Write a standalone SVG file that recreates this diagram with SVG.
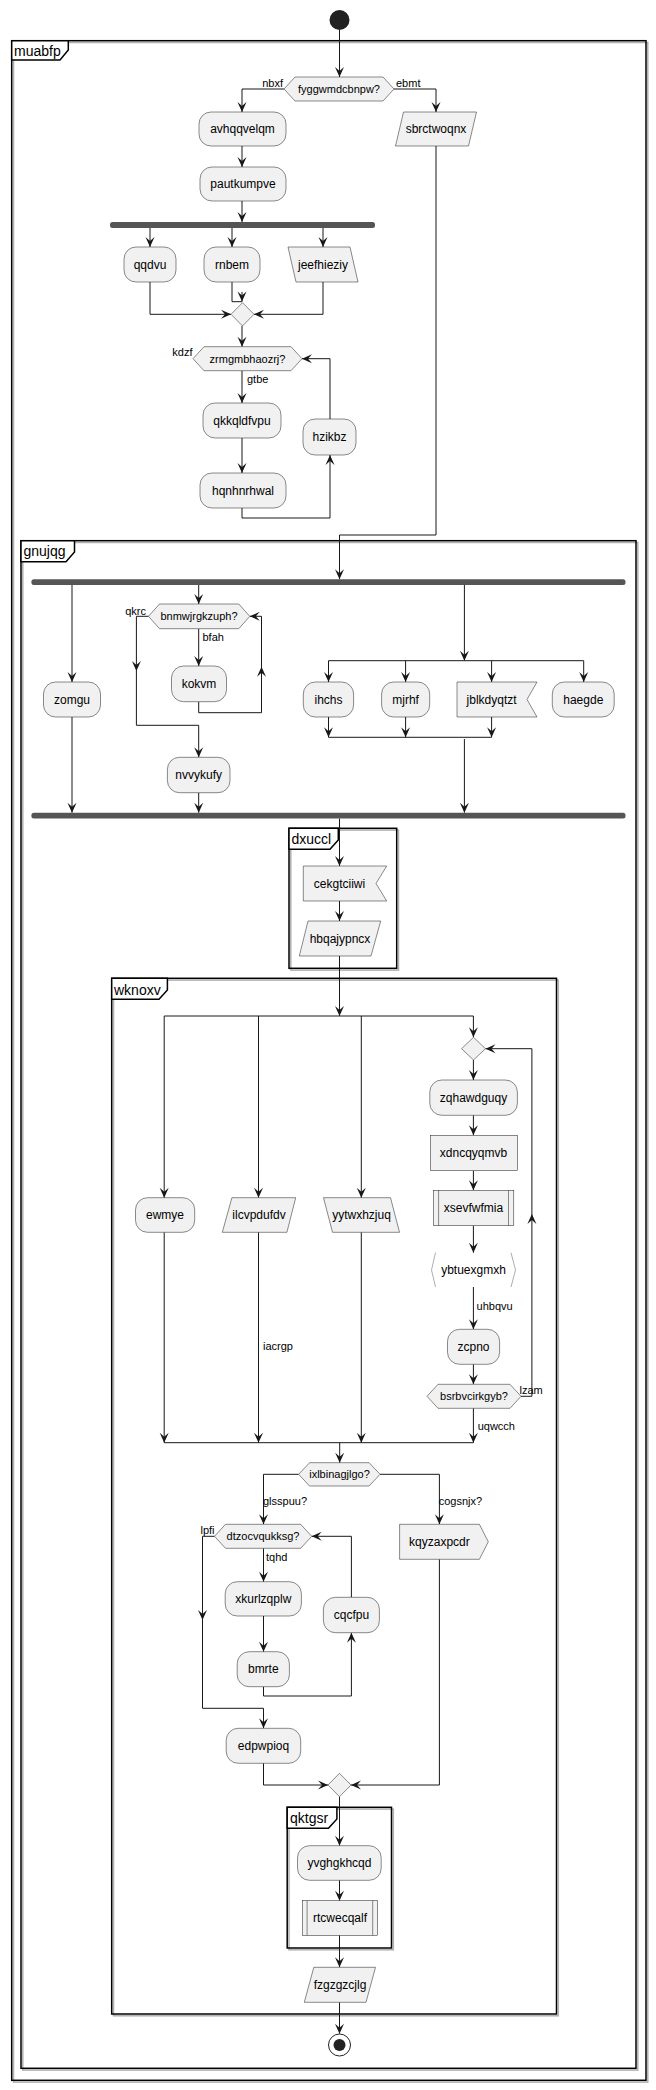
<svg xmlns="http://www.w3.org/2000/svg" xmlns:xlink="http://www.w3.org/1999/xlink" width="656" height="2090" viewBox="0 0 656 2090">
<style>
text{font-family:"Liberation Sans",Arial,sans-serif;fill:#000}
.t{font-size:12px;text-anchor:middle}
.d{font-size:11px;text-anchor:middle}
.l{font-size:11px}
.r{font-size:11px;text-anchor:end}
.f{font-size:14px}
.n{fill:#F1F1F1;stroke:#181818;stroke-width:0.5}
.c{fill:none;stroke:#181818;stroke-width:1}
.fr{fill:none;stroke:#000;stroke-width:1.5}
.sh{fill:none;stroke:#b0b0b0;stroke-width:1.5}
.tab{fill:#fff;stroke:#000;stroke-width:1.5}
.bar{fill:#555;stroke:none}
</style>
<defs>
<path id="ah" d="M0,0 L-4.5,-10 L0,-6 L4.5,-10 Z" fill="#181818"/>
</defs>
<rect width="656" height="2090" fill="#fff"/>

<g id="frames">
<rect class="sh" x="13.5" y="42.5" width="634.3" height="2039.6"/>
<rect class="fr" x="11.7" y="40.7" width="634.3" height="2039.6"/>
<path class="tab" d="M11.7,40.7 H68.3 V50 L60,60 H11.7 Z"/>
<text class="f" x="14" y="55.5">muabfp</text>
<rect class="sh" x="22.8" y="542.5" width="615" height="1527.6"/>
<rect class="fr" x="21" y="540.7" width="615" height="1527.6"/>
<path class="tab" d="M21,540.7 H74.5 V552 L66,561.7 H21 Z"/>
<text class="f" x="23.5" y="556">gnujqg</text>
<rect class="sh" x="290.8" y="830.1" width="107.7" height="140"/>
<rect class="fr" x="289" y="828.3" width="107.7" height="140"/>
<path class="tab" d="M289,828.3 H338.3 V840 L330,849.3 H289 Z"/>
<text class="f" x="291.5" y="844">dxuccl</text>
<rect class="sh" x="113.5" y="980.1" width="444.8" height="1035.7"/>
<rect class="fr" x="111.7" y="978.3" width="444.8" height="1035.7"/>
<path class="tab" d="M111.7,978.3 H167.4 V990 L159,999.3 H111.7 Z"/>
<text class="f" x="114" y="994.5">wknoxv</text>
<rect class="sh" x="289" y="1809.1" width="104.3" height="140.7"/>
<rect class="fr" x="287.2" y="1807.3" width="104.3" height="140.7"/>
<path class="tab" d="M287.2,1807.3 H336.9 V1819 L328.5,1828.3 H287.2 Z"/>
<text class="f" x="290" y="1823">qktgsr</text>
</g>

<g id="connectors">
<path class="c" d="M339.5,30 V77"/><use href="#ah" transform="translate(339.5,77)"/>
<path class="c" d="M284,89 H242 V112"/><use href="#ah" transform="translate(242,112)"/>
<path class="c" d="M394,89 H436 V112"/><use href="#ah" transform="translate(436,112)"/>
<text class="r" x="283" y="87">nbxf</text>
<text class="l" x="396" y="87">ebmt</text>
<path class="c" d="M242,146 V167"/><use href="#ah" transform="translate(242,167)"/>
<path class="c" d="M242,201 V222"/><use href="#ah" transform="translate(242,222)"/>
<path class="c" d="M150,228 V247"/><use href="#ah" transform="translate(150,247)"/>
<path class="c" d="M232,228 V247"/><use href="#ah" transform="translate(232,247)"/>
<path class="c" d="M323,228 V247"/><use href="#ah" transform="translate(323,247)"/>
<path class="c" d="M150,282 V314.3 H231"/><use href="#ah" transform="translate(231,314.3) rotate(-90)"/>
<path class="c" d="M323,282 V314.3 H254"/><use href="#ah" transform="translate(254,314.3) rotate(90)"/>
<path class="c" d="M232,282 V301.7 H242 V292"/><use href="#ah" transform="translate(242,301.5)"/>
<path class="c" d="M242,326 V346.7"/><use href="#ah" transform="translate(242,346.7)"/>
<text class="r" x="192.5" y="356">kdzf</text>
<path class="c" d="M242,370.7 V403"/><use href="#ah" transform="translate(242,403)"/>
<text class="l" x="247" y="383">gtbe</text>
<path class="c" d="M242,438 V473"/><use href="#ah" transform="translate(242,473)"/>
<path class="c" d="M242,508 V518 H330 V455"/><use href="#ah" transform="translate(330,455) rotate(180)"/>
<path class="c" d="M330,419 V358.7 H302"/><use href="#ah" transform="translate(302,358.7) rotate(90)"/>
<path class="c" d="M436,146 V535 H339.5 V579.3"/><use href="#ah" transform="translate(339.5,579.3)"/>

<path class="c" d="M72,585 V682"/><use href="#ah" transform="translate(72,682)"/>
<path class="c" d="M72,717 V812.7"/><use href="#ah" transform="translate(72,812.7)"/>
<path class="c" d="M198.7,585 V604"/><use href="#ah" transform="translate(198.7,604)"/>
<text class="r" x="146" y="614.5">qkrc</text>
<path class="c" d="M198.7,628.7 V666"/><use href="#ah" transform="translate(198.7,666)"/>
<text class="l" x="202.5" y="641">bfah</text>
<path class="c" d="M198.7,701.7 V712.7 H261.5 V616.3 H249.8"/><use href="#ah" transform="translate(249.8,616.3) rotate(90)"/>
<use href="#ah" transform="translate(261.5,666.7) rotate(180)"/>
<path class="c" d="M148.5,616.3 H136.4 V725.3 H198.7 V757.3"/><use href="#ah" transform="translate(198.7,757.3)"/>
<use href="#ah" transform="translate(136.4,671)"/>
<path class="c" d="M198.7,792.7 V812.7"/><use href="#ah" transform="translate(198.7,812.7)"/>
<path class="c" d="M464.4,585 V660.7"/><use href="#ah" transform="translate(464.4,660.7)"/>
<path class="c" d="M328.5,660.7 H583.7"/>
<path class="c" d="M328.5,660.7 V682"/><use href="#ah" transform="translate(328.5,682)"/>
<path class="c" d="M405.6,660.7 V682"/><use href="#ah" transform="translate(405.6,682)"/>
<path class="c" d="M491.6,660.7 V682"/><use href="#ah" transform="translate(491.6,682)"/>
<path class="c" d="M583.7,660.7 V682"/><use href="#ah" transform="translate(583.7,682)"/>
<path class="c" d="M328.5,717 V737.3"/><use href="#ah" transform="translate(328.5,737.3)"/>
<path class="c" d="M405.6,717 V737.3"/><use href="#ah" transform="translate(405.6,737.3)"/>
<path class="c" d="M491.6,717 V737.3"/><use href="#ah" transform="translate(491.6,737.3)"/>
<path class="c" d="M328.5,737.3 H491.6"/>
<path class="c" d="M464.4,739 V812.7"/><use href="#ah" transform="translate(464.4,812.7)"/>

<path class="c" d="M339.5,818.5 V866"/><use href="#ah" transform="translate(339.5,866)"/>
<path class="c" d="M339.5,901 V921"/><use href="#ah" transform="translate(339.5,921)"/>
<path class="c" d="M339.5,956 V1016"/><use href="#ah" transform="translate(339.5,1016)"/>
<path class="c" d="M164.2,1016 H473.4"/>
<path class="c" d="M164.2,1016 V1197.7"/><use href="#ah" transform="translate(164.2,1197.7)"/>
<path class="c" d="M258.5,1016 V1197.7"/><use href="#ah" transform="translate(258.5,1197.7)"/>
<path class="c" d="M361.3,1016 V1197.7"/><use href="#ah" transform="translate(361.3,1197.7)"/>
<path class="c" d="M473.4,1016 V1037.3"/><use href="#ah" transform="translate(473.4,1037.3)"/>
<path class="c" d="M164.2,1232.3 V1442.7"/><use href="#ah" transform="translate(164.2,1442.7)"/>
<path class="c" d="M258.5,1232.3 V1442.7"/><use href="#ah" transform="translate(258.5,1442.7)"/>
<text class="l" x="263" y="1349.7">iacrgp</text>
<path class="c" d="M361.3,1232.3 V1442.7"/><use href="#ah" transform="translate(361.3,1442.7)"/>
<path class="c" d="M473.4,1060 V1080"/><use href="#ah" transform="translate(473.4,1080)"/>
<path class="c" d="M473.4,1115.3 V1135.3"/><use href="#ah" transform="translate(473.4,1135.3)"/>
<path class="c" d="M473.4,1170.7 V1190.3"/><use href="#ah" transform="translate(473.4,1190.3)"/>
<path class="c" d="M473.4,1225.7 V1252.7"/><use href="#ah" transform="translate(473.4,1252.7)"/>
<path class="c" d="M473.4,1287 V1329.3"/><use href="#ah" transform="translate(473.4,1329.3)"/>
<text class="l" x="476.6" y="1310">uhbqvu</text>
<path class="c" d="M473.4,1364.3 V1384.3"/><use href="#ah" transform="translate(473.4,1384.3)"/>
<path class="c" d="M521,1396.3 H531.9 V1048.7 H485.5"/><use href="#ah" transform="translate(485.5,1048.7) rotate(90)"/>
<use href="#ah" transform="translate(531.9,1214) rotate(180)"/>
<text class="l" x="519.5" y="1394">lzam</text>
<path class="c" d="M473.4,1408.3 V1442.7"/><use href="#ah" transform="translate(473.4,1442.7)"/>
<text class="l" x="477.7" y="1430">uqwcch</text>
<path class="c" d="M164.2,1442.7 H473.4"/>
<path class="c" d="M339.7,1442.7 V1462.7"/><use href="#ah" transform="translate(339.7,1462.7)"/>
<path class="c" d="M298.6,1474.3 H263.5 V1524.3"/><use href="#ah" transform="translate(263.5,1524.3)"/>
<text class="l" x="263" y="1504.7">glsspuu?</text>
<path class="c" d="M380.1,1474.3 H439.4 V1524.3"/><use href="#ah" transform="translate(439.4,1524.3)"/>
<text class="l" x="438.7" y="1504.7">cogsnjx?</text>
<text class="r" x="214.5" y="1534">lpfi</text>
<path class="c" d="M263.5,1548.3 V1581.7"/><use href="#ah" transform="translate(263.5,1581.7)"/>
<text class="l" x="266" y="1560.7">tqhd</text>
<path class="c" d="M263.5,1616 V1651.7"/><use href="#ah" transform="translate(263.5,1651.7)"/>
<path class="c" d="M263.5,1686.7 V1696 H351.4 V1632.7"/><use href="#ah" transform="translate(351.4,1632.7) rotate(180)"/>
<path class="c" d="M351.4,1597.3 V1536.3 H311.7"/><use href="#ah" transform="translate(311.7,1536.3) rotate(90)"/>
<path class="c" d="M214.5,1536.3 H202.5 V1708.3 H263.5 V1728.3"/><use href="#ah" transform="translate(263.5,1728.3)"/>
<use href="#ah" transform="translate(202.5,1620)"/>
<path class="c" d="M263.5,1763.3 V1785 H328"/><use href="#ah" transform="translate(328,1785) rotate(-90)"/>
<path class="c" d="M439.4,1559.3 V1785 H351"/><use href="#ah" transform="translate(351,1785) rotate(90)"/>
<path class="c" d="M339.5,1796.7 V1845.7"/><use href="#ah" transform="translate(339.5,1845.7)"/>
<path class="c" d="M339.5,1880.3 V1900.7"/><use href="#ah" transform="translate(339.5,1900.7)"/>
<path class="c" d="M339.5,1935.3 V1967.3"/><use href="#ah" transform="translate(339.5,1967.3)"/>
<path class="c" d="M339.5,2002.3 V2033.7"/><use href="#ah" transform="translate(339.5,2033.7)"/>
</g>

<g id="start"><circle cx="339.5" cy="20" r="10" fill="#222"/></g>
<g id="fyggwmdcbnpw"><polygon class="n" points="284,89 295,77 383,77 394,89 383,101 295,101"/><text class="d" x="339" y="93">fyggwmdcbnpw?</text></g>
<g id="avhqqvelqm"><rect class="n" x="199" y="112" width="87" height="34" rx="12"/><text class="t" x="242.5" y="133">avhqqvelqm</text></g>
<g id="pautkumpve"><rect class="n" x="200" y="167" width="86" height="34" rx="12"/><text class="t" x="243" y="188">pautkumpve</text></g>
<g id="fork1"><rect class="bar" x="110" y="222" width="265" height="6" rx="2.5"/></g>
<g id="qqdvu"><rect class="n" x="124" y="247" width="52" height="35" rx="12"/><text class="t" x="150" y="268.5">qqdvu</text></g>
<g id="rnbem"><rect class="n" x="204" y="247" width="56" height="35" rx="12"/><text class="t" x="232" y="268.5">rnbem</text></g>
<g id="jeefhieziy"><polygon class="n" points="288,247 350,247 358,282 296,282"/><text class="t" x="323" y="268.5">jeefhieziy</text></g>
<g id="merge1"><polygon class="n" points="242.5,302.7 254,314.3 242.5,326 231,314.3"/></g>
<g id="zrmgmbhaozrj"><polygon class="n" points="193,358.7 204,346.7 291,346.7 302,358.7 291,370.7 204,370.7"/><text class="d" x="247.5" y="362.7">zrmgmbhaozrj?</text></g>
<g id="qkkqldfvpu"><rect class="n" x="203" y="403" width="78" height="35" rx="12"/><text class="t" x="242" y="424.5">qkkqldfvpu</text></g>
<g id="hqnhnrhwal"><rect class="n" x="200" y="473" width="86" height="35" rx="12"/><text class="t" x="243" y="494.5">hqnhnrhwal</text></g>
<g id="hzikbz"><rect class="n" x="303" y="419" width="53" height="36" rx="12"/><text class="t" x="329.5" y="441">hzikbz</text></g>
<g id="sbrctwoqnx"><polygon class="n" points="403.5,112 476.5,112 468.5,146 395.5,146"/><text class="t" x="436" y="133">sbrctwoqnx</text></g>

<g id="fork2"><rect class="bar" x="31.4" y="579.3" width="594.1" height="5.7" rx="2.5"/></g>
<g id="zomgu"><rect class="n" x="43.5" y="682" width="57" height="35" rx="12"/><text class="t" x="72" y="703.5">zomgu</text></g>
<g id="bnmwjrgkzuph"><polygon class="n" points="148.5,616.3 159.5,604 238.8,604 249.8,616.3 238.8,628.7 159.5,628.7"/><text class="d" x="199" y="620.3">bnmwjrgkzuph?</text></g>
<g id="kokvm"><rect class="n" x="171.5" y="666" width="55" height="35.7" rx="12"/><text class="t" x="199" y="687.8">kokvm</text></g>
<g id="nvvykufy"><rect class="n" x="167.4" y="757.3" width="62.6" height="35.4" rx="12"/><text class="t" x="198.7" y="779">nvvykufy</text></g>
<g id="ihchs"><rect class="n" x="303.3" y="682" width="50.3" height="35" rx="12"/><text class="t" x="328.5" y="703.5">ihchs</text></g>
<g id="mjrhf"><rect class="n" x="381.6" y="682" width="48.1" height="35" rx="12"/><text class="t" x="405.6" y="703.5">mjrhf</text></g>
<g id="jblkdyqtzt"><polygon class="n" points="457,682 537,682 527,699.5 537,717 457,717"/><text class="t" x="491.6" y="703.5">jblkdyqtzt</text></g>
<g id="haegde"><rect class="n" x="552.3" y="682" width="61.9" height="35" rx="12"/><text class="t" x="583.3" y="703.5">haegde</text></g>
<g id="join2"><rect class="bar" x="31.4" y="812.7" width="594.1" height="5.7" rx="2.5"/></g>

<g id="cekgtciiwi"><polygon class="n" points="303.3,866 386.7,866 376,883.5 386.7,901 303.3,901"/><text class="t" x="339.5" y="887.5">cekgtciiwi</text></g>
<g id="hbqajypncx"><polygon class="n" points="308,921 380.7,921 371,956 299.3,956"/><text class="t" x="340" y="942.5">hbqajypncx</text></g>

<g id="ewmye"><rect class="n" x="135.5" y="1197.7" width="59.2" height="34.6" rx="12"/><text class="t" x="165" y="1219">ewmye</text></g>
<g id="ilcvpdufdv"><polygon class="n" points="231.9,1197.7 295.7,1197.7 286.9,1232.3 222.3,1232.3"/><text class="t" x="259" y="1219">ilcvpdufdv</text></g>
<g id="yytwxhzjuq"><polygon class="n" points="323.5,1197.7 390.5,1197.7 399.5,1232.3 332.5,1232.3"/><text class="t" x="361.5" y="1219">yytwxhzjuq</text></g>
<g id="loopmerge"><polygon class="n" points="473.5,1037.3 485.5,1048.7 473.5,1060 461.5,1048.7"/></g>
<g id="zqhawdguqy"><rect class="n" x="429.8" y="1080" width="87.6" height="35.3" rx="12"/><text class="t" x="473.5" y="1101.7">zqhawdguqy</text></g>
<g id="xdncqyqmvb"><rect class="n" x="430.5" y="1135.3" width="86.9" height="35.4"/><text class="t" x="473.5" y="1157">xdncqyqmvb</text></g>
<g id="xsevfwfmia"><rect class="n" x="433.3" y="1190.3" width="80.5" height="35.4"/><path class="n" d="M438.6,1190.3 V1225.7 M508.5,1190.3 V1225.7"/><text class="t" x="473.5" y="1212">xsevfwfmia</text></g>
<g id="ybtuexgmxh"><path d="M435.5,1252.7 L431.5,1270 L435.5,1287 M511,1252.7 L515.5,1270 L511,1287" fill="none" stroke="#999" stroke-width="0.8"/><text class="t" x="473.5" y="1274">ybtuexgmxh</text></g>
<g id="zcpno"><rect class="n" x="447.5" y="1329.3" width="52.1" height="35" rx="12"/><text class="t" x="473.5" y="1350.8">zcpno</text></g>
<g id="bsrbvcirkgyb"><polygon class="n" points="427,1396.3 438,1384.3 510,1384.3 521,1396.3 510,1408.3 438,1408.3"/><text class="d" x="474" y="1400.3">bsrbvcirkgyb?</text></g>

<g id="ixlbinagjlgo"><polygon class="n" points="298.6,1474.3 309.6,1462.7 369.1,1462.7 380.1,1474.3 369.1,1486 309.6,1486"/><text class="d" x="339.5" y="1478.3">ixlbinagjlgo?</text></g>
<g id="dtzocvqukksg"><polygon class="n" points="214.5,1536.3 225.5,1524.3 300.7,1524.3 311.7,1536.3 300.7,1548.3 225.5,1548.3"/><text class="d" x="263" y="1540.3">dtzocvqukksg?</text></g>
<g id="kqyzaxpcdr"><polygon class="n" points="399.6,1524.3 479.4,1524.3 488.3,1541.8 479.4,1559.3 399.6,1559.3"/><text class="t" x="439.4" y="1545.8">kqyzaxpcdr</text></g>
<g id="xkurlzqplw"><rect class="n" x="225.2" y="1581.7" width="76.2" height="34.3" rx="12"/><text class="t" x="263.3" y="1602.8">xkurlzqplw</text></g>
<g id="bmrte"><rect class="n" x="237.2" y="1651.7" width="52.2" height="35" rx="12"/><text class="t" x="263.3" y="1673.2">bmrte</text></g>
<g id="cqcfpu"><rect class="n" x="323.4" y="1597.3" width="56" height="35.4" rx="12"/><text class="t" x="351.4" y="1619">cqcfpu</text></g>
<g id="edpwpioq"><rect class="n" x="226.2" y="1728.3" width="74.5" height="35" rx="12"/><text class="t" x="263.5" y="1749.8">edpwpioq</text></g>
<g id="merge3"><polygon class="n" points="339.5,1773.3 351,1785 339.5,1796.7 328,1785"/></g>
<g id="yvghgkhcqd"><rect class="n" x="297.5" y="1845.7" width="83.7" height="34.6" rx="12"/><text class="t" x="339.4" y="1867">yvghgkhcqd</text></g>
<g id="rtcwecqalf"><rect class="n" x="302.5" y="1900.7" width="74.8" height="34.6"/><path class="n" d="M307.1,1900.7 V1935.3 M372.7,1900.7 V1935.3"/><text class="t" x="340" y="1922">rtcwecqalf</text></g>
<g id="fzgzgzcjlg"><polygon class="n" points="313.8,1967.3 375.5,1967.3 366,2002.3 304.3,2002.3"/><text class="t" x="340" y="1988.8">fzgzgzcjlg</text></g>
<g id="end"><circle cx="339.5" cy="2045" r="11" fill="none" stroke="#222" stroke-width="1"/><circle cx="339.5" cy="2045" r="6" fill="#222"/></g>
</svg>
